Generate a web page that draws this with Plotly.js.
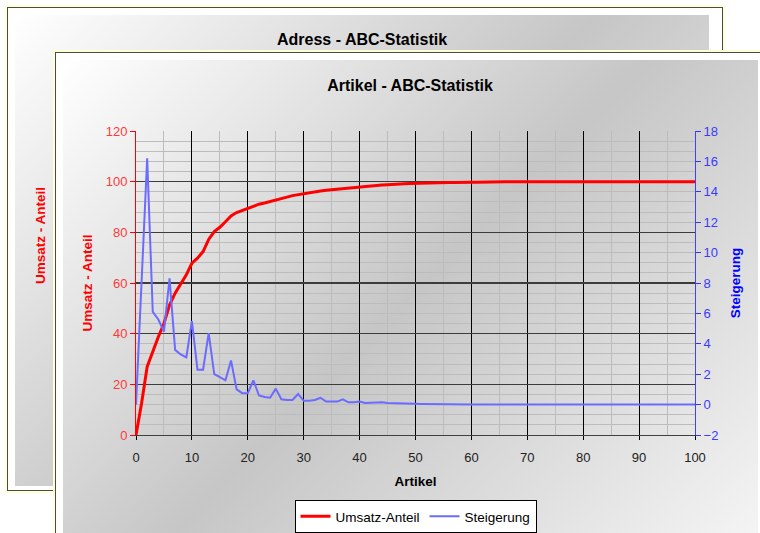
<!DOCTYPE html>
<html><head><meta charset="utf-8">
<script src="https://cdn.plot.ly/plotly-3.0.1.min.js"></script>
<style>
html,body{margin:0;padding:0;background:#fff;width:760px;height:533px;overflow:hidden;position:relative;}
.win{position:absolute;box-sizing:border-box;border:1px solid #4a4a4a;box-shadow:0 0 0 2px #ffffd2;background:#fff;}
.fill{position:absolute;background:linear-gradient(135deg,#ffffff 0%,#c6c6c6 50%,#f4f4f4 100%);}
#chart{position:absolute;left:0;top:0;width:760px;height:533px;}
</style></head>
<body>
<div class="win" style="left:7px;top:7px;width:716px;height:484px;"></div>
<div class="fill" style="left:15px;top:15px;width:694px;height:471px;"></div>
<div class="win" style="left:55px;top:52px;width:730px;height:520px;"></div>
<div class="fill" style="left:63px;top:60px;width:695px;height:473px;"></div>
<div id="chart"></div>
<script>
// ---- data ----
const articles = [0,1,2,3,4,5,6,7,8,9,10,11,12,13,14,15,16,17,18,19,20,21,22,23,24,25,26,27,28,29,30,31,32,33,34,35,36,37,38,39,40,41,42,43,44,45,46,47,48,49,50,51,52,53,54,55,56,57,58,59,60,61,62,63,64,65,66,67,68,69,70,71,72,73,74,75,76,77,78,79,80,81,82,83,84,85,86,87,88,89,90,91,92,93,94,95,96,97,98,99,100];
const umsatzAnteil = [0,12.5,27,33,38.8,44,51.3,56,59.9,63.2,67.8,69.8,72.4,77.2,80.3,82,84.2,86.5,87.8,88.6,89.5,90.4,91.1,91.6,92.1,92.8,93.4,93.9,94.5,94.9,95.4,95.7,96.0,96.3,96.6,96.8,97.1,97.4,97.7,97.9,98.0,98.2,98.4,98.5,98.7,98.8,99.0,99.1,99.2,99.3,99.4,99.5,99.5,99.6,99.6,99.7,99.7,99.7,99.8,99.8,99.8,99.8,99.9,99.9,99.9,99.9,100,100,100,100,100,100,100,100,100,100,100,100,100,100,100,100,100,100,100,100,100,100,100,100,100,100,100,100,100,100,100,100,100,100,100];
const steigerung = [0,8.3,16.2,6.1,5.6,4.8,8.3,3.6,3.3,3.1,5.5,2.3,2.3,4.7,2.0,1.8,1.6,2.9,1.0,0.75,0.75,1.6,0.6,0.5,0.45,1.05,0.35,0.3,0.3,0.7,0.25,0.25,0.3,0.45,0.2,0.2,0.2,0.35,0.15,0.15,0.2,0.1,0.12,0.1,0.15,0.1,0.08,0.08,0.06,0.05,0.05,0.04,0.03,0.03,0.02,0.01,0,0,0,0,0,0,0,0,0,0,0,0,0,0,0,0,0,0,0,0,0,0,0,0,0,0,0,0,0,0,0,0,0,0,0,0,0,0,0,0,0,0,0,0,0];
const seriesNames = ['Umsatz-Anteil','Steigerung'];
const chartTitle = 'Artikel - ABC-Statistik';
const backTitle = 'Adress - ABC-Statistik';

const F = '"Liberation Sans", Arial, sans-serif';
const traces = [
  {x: articles, y: umsatzAnteil, name: seriesNames[0], type:'scatter', mode:'lines',
   line:{color:'#ff0000', width:3}, yaxis:'y'},
  {x: articles, y: steigerung, name: seriesNames[1], type:'scatter', mode:'lines',
   line:{color:'#6b6bff', width:2}, yaxis:'y2'}
];
const px2x = p => (p-136)/559, px2y = p => (435-p)/304;
const layout = {
  width:760, height:533,
  margin:{l:136, r:65, t:131, b:98, pad:0, autoexpand:false},
  paper_bgcolor:'rgba(0,0,0,0)', plot_bgcolor:'rgba(0,0,0,0)',
  font:{family:F, size:13, color:'#000'},
  title:{text: chartTitle, font:{family:F, size:16, weight:'bold', color:'#000'},
         xref:'container', x:410/760, xanchor:'center', yref:'container', y:1-85/533, yanchor:'middle'},
  xaxis:{range:[0,100], tick0:0, dtick:10, showgrid:true, gridcolor:'#000', gridwidth:1,
         minor:{dtick:5, showgrid:true, gridcolor:'#bcbcbc', gridwidth:1},
         showline:true, linecolor:'#404040', linewidth:1, ticks:'outside', ticklen:4, tickcolor:'#000',
         ticklabelstandoff:6,
         tickfont:{size:13, color:'#222'}, zeroline:false, fixedrange:true,
         title:{text:'Artikel', font:{size:13.5, weight:'bold', color:'#000'}, standoff:12}},
  yaxis:{range:[0,120], tick0:0, dtick:20, showgrid:true, gridcolor:'#3c3c3c', gridwidth:1.5,
         minor:{dtick:4, showgrid:true, gridcolor:'#bcbcbc', gridwidth:1},
         showline:true, linecolor:'#ff0000', linewidth:1, ticks:'outside', ticklen:5, tickcolor:'#ff0000',
         tickfont:{size:13, color:'#ff3a3a'}, zeroline:false, fixedrange:true,
         title:{text:'Umsatz - Anteil', font:{size:13.5, weight:'bold', color:'#ff0000'}, standoff:9}},
  yaxis2:{overlaying:'y', side:'right', range:[-2,18], tick0:0, dtick:2, showgrid:false, zeroline:false,
          showline:true, linecolor:'#4040ff', linewidth:1, ticks:'outside', ticklen:5, tickcolor:'#3333ff',
          tickfont:{size:13, color:'#3a3aff'}, fixedrange:true,
          title:{text:'Steigerung', font:{size:13.5, weight:'bold', color:'#0000ff'}, standoff:13}},
  showlegend:true,
  legend:{orientation:'h', x:0.5, xanchor:'center', y:px2y(500), yanchor:'top',
          bgcolor:'#ffffff', bordercolor:'#000', borderwidth:1, font:{size:13.5, color:'#000'}, itemwidth:30},
  annotations:[
    {text: backTitle, xref:'paper', yref:'paper', x:px2x(362), y:px2y(39), showarrow:false,
     xanchor:'center', yanchor:'middle', font:{family:F, size:16, weight:'bold', color:'#000'}},
    {text:'Umsatz - Anteil', xref:'paper', yref:'paper', x:px2x(40), y:px2y(236), showarrow:false,
     textangle:-90, xanchor:'center', yanchor:'middle', font:{family:F, size:13.5, weight:'bold', color:'#ff0000'}}
  ]
};
Plotly.newPlot('chart', traces, layout, {displayModeBar:false, staticPlot:true});
</script>
</body></html>
